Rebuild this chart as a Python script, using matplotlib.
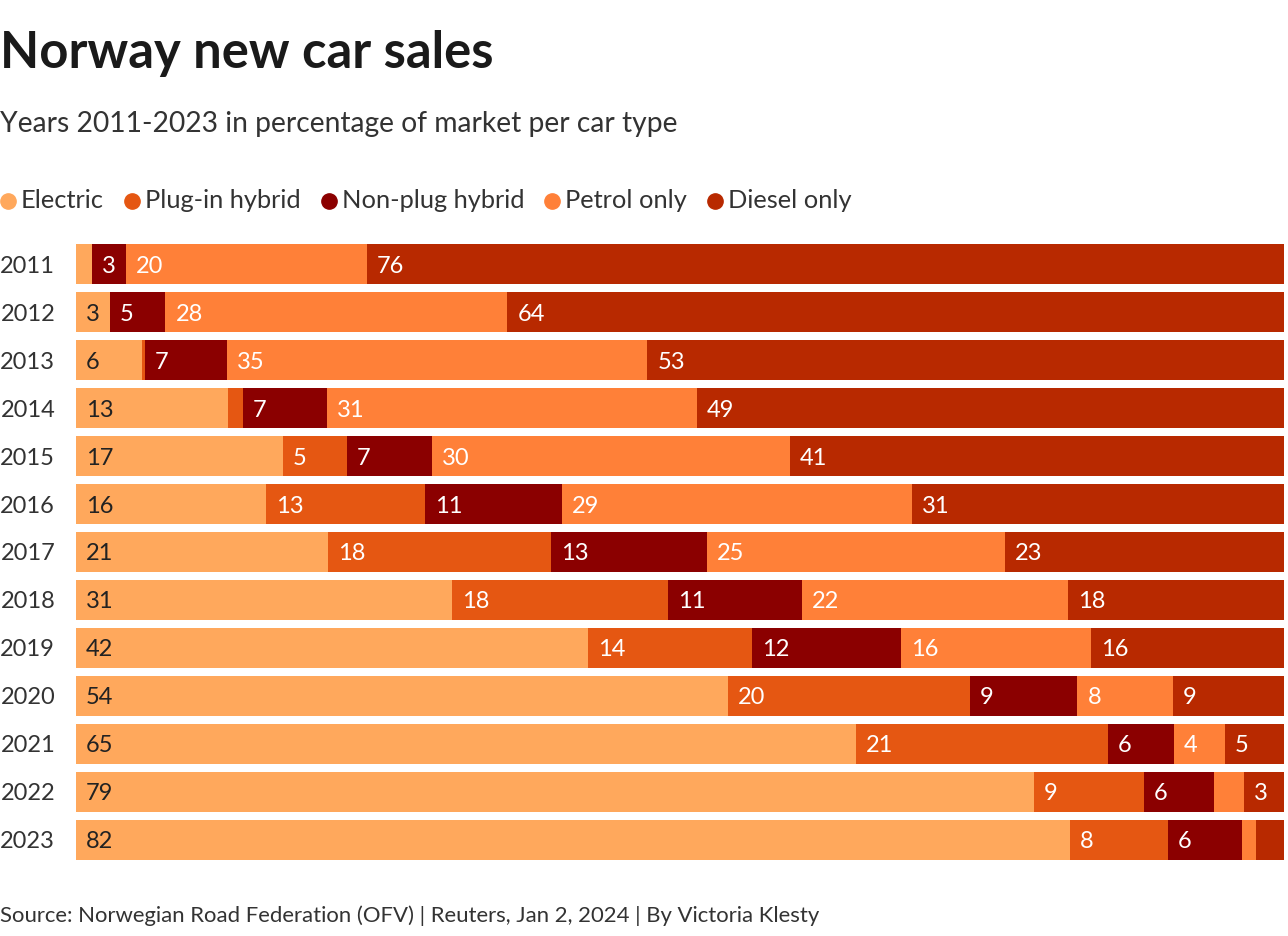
import matplotlib
matplotlib.use('Agg')
import matplotlib.pyplot as plt
from matplotlib.lines import Line2D

years = ['2011', '2012', '2013', '2014', '2015', '2016', '2017', '2018', '2019', '2020', '2021', '2022', '2023']
series_names = ['Electric', 'Plug-in hybrid', 'Non-plug hybrid', 'Petrol only', 'Diesel only']
electric = [1.3, 2.8, 5.5, 12.6, 17.1, 15.7, 20.9, 31.1, 42.4, 54.0, 64.6, 79.3, 82.3]
plugin = [0.0, 0.0, 0.2, 1.2, 5.3, 13.2, 18.4, 17.9, 13.6, 20.0, 20.8, 9.1, 8.1]
nonplug = [2.8, 4.6, 6.8, 7.0, 7.1, 11.3, 12.9, 11.1, 12.3, 8.9, 5.5, 5.8, 6.1]
petrol = [20.0, 28.3, 34.8, 30.6, 29.6, 29.0, 24.7, 22.0, 15.7, 7.9, 4.2, 2.5, 1.2]
diesel = [75.9, 64.3, 52.7, 48.6, 40.9, 30.8, 23.1, 17.9, 16.0, 9.2, 4.9, 3.3, 2.3]
colors = ['#FFA85C', '#E55712', '#8B0000', '#FF8038', '#B82900']
label_colors = ['#222222', 'white', 'white', 'white', 'white']

FONT = 'Lato'
W, H = 1288, 936
fig = plt.figure(figsize=(W / 100, H / 100), dpi=100)
fig.patch.set_facecolor('white')

def fx(px):
    return px / W

def fy(px):
    return 1 - px / H

ax = fig.add_axes([fx(76), fy(864), fx(1284) - fx(76), (864 - 240) / H])
series = [electric, plugin, nonplug, petrol, diesel]
left = [0.0] * len(years)
ypos = list(range(len(years)))
for vals, c, lc in zip(series, colors, label_colors):
    ax.barh(ypos, vals, left=left, height=40 / 48, color=c, linewidth=0)
    for i, v in enumerate(vals):
        if v >= 2.7:
            ax.annotate(str(int(v + 0.5)), xy=(left[i], ypos[i]), xytext=(10, -2),
                        textcoords='offset pixels', ha='left', va='center',
                        color=lc, fontsize=17, family=FONT)
    left = [l + v for l, v in zip(left, vals)]

ax.set_xlim(0, 100)
ax.set_ylim(len(years) - 0.5, -0.5)
ax.set_yticks(ypos)
ax.set_yticklabels(years, fontsize=17, family=FONT, color='#333333', va='center_baseline')
ax.tick_params(axis='y', length=0, pad=15)
ax.set_xticks([])
for s in ax.spines.values():
    s.set_visible(False)

fig.text(0, fy(68), 'Norway new car sales', fontsize=36.5, fontweight='bold', family=FONT,
         color='#1a1a1a', va='baseline', ha='left')
fig.text(0, fy(132), 'Years 2011-2023 in percentage of market per car type', fontsize=20.3,
         family=FONT, color='#333333', va='baseline', ha='left')
fig.text(0, fy(922), 'Source: Norwegian Road Federation (OFV) | Reuters, Jan 2, 2024 | By Victoria Klesty',
         fontsize=15.9, family=FONT, color='#333333', va='baseline', ha='left')

# legend
fig.canvas.draw()
renderer = fig.canvas.get_renderer()
x = 1
for name, c in zip(series_names, colors):
    fig.add_artist(Line2D([fx(x + 7)], [fy(201)], marker='o', markersize=11, color=c,
                          linestyle='none', transform=fig.transFigure))
    t = fig.text(fx(x + 20), fy(208), name, fontsize=18.3, family=FONT,
                 color='#333333', va='baseline', ha='left')
    bb = t.get_window_extent(renderer)
    x = bb.x1 + 21

fig.savefig('out.png', dpi=100, facecolor='white')
